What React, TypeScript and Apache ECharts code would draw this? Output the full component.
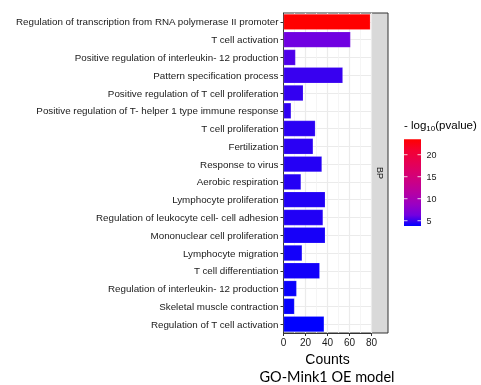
import React, { useEffect, useRef } from "react";
import * as echarts from "echarts";

const categories = [
  "Regulation of transcription from RNA polymerase II promoter",
  "T cell activation",
  "Positive regulation of interleukin- 12 production",
  "Pattern specification process",
  "Positive regulation of T cell proliferation",
  "Positive regulation of T- helper 1 type immune response",
  "T cell proliferation",
  "Fertilization",
  "Response to virus",
  "Aerobic respiration",
  "Lymphocyte proliferation",
  "Regulation of leukocyte cell- cell adhesion",
  "Mononuclear cell proliferation",
  "Lymphocyte migration",
  "T cell differentiation",
  "Regulation of interleukin- 12 production",
  "Skeletal muscle contraction",
  "Regulation of T cell activation",
];
const counts = [79, 61, 11, 54, 18, 7, 29, 27, 35, 16, 38, 36, 38, 17, 33, 12, 10, 37];
const negLogP = [23.5, 6.2, 5.5, 5.0, 4.9, 4.8, 4.7, 4.7, 4.6, 4.6, 4.5, 4.5, 4.3, 4.2, 4.2, 4.0, 3.9, 3.8];
const xTicks = [0, 20, 40, 60, 80];
const legendTicks = [5, 10, 15, 20];
const colorStops = ["#0000FF", "#7300E0", "#9A00C3", "#B500A5", "#C90088", "#DA006C", "#E8004F", "#F40031", "#FF0000"];

const P_MIN = Math.min(...negLogP);
const P_MAX = Math.max(...negLogP);

export default function App() {
  const ref = useRef<HTMLDivElement>(null);
  useEffect(() => {
    if (!ref.current) return;
    const chart = echarts.init(ref.current, null, { renderer: "svg" });
    const gridLeft = 283.5, gridTop = 13, gridW = 88, gridH = 320;
    const barX = 404, barTop = 139.3, barW = 17, barH = 86.7;
    const yOf = (v: number) => barTop + barH - ((v - P_MIN) / (P_MAX - P_MIN)) * barH;
    const n = colorStops.length;
    const reversed = colorStops.slice().reverse();
    const gradStops = reversed.map((c, i) => ({ offset: i / (n - 1), color: c }));

    const legendEls: any[] = [
      {
        type: "rect",
        shape: { x: barX, y: barTop, width: barW, height: barH },
        style: { fill: new echarts.graphic.LinearGradient(0, 0, 0, 1, gradStops) },
      },
    ];
    legendTicks.forEach((t) => {
      const y = yOf(t);
      legendEls.push({ type: "line", shape: { x1: barX, y1: y, x2: barX + 3.5, y2: y }, style: { stroke: "rgba(255,255,255,0.8)", lineWidth: 1 } });
      legendEls.push({ type: "line", shape: { x1: barX + barW - 3.5, y1: y, x2: barX + barW, y2: y }, style: { stroke: "rgba(255,255,255,0.8)", lineWidth: 1 } });
      legendEls.push({
        type: "text",
        x: barX + barW + 5.5,
        y,
        style: { text: String(t), fontSize: 9, fontFamily: "Liberation Sans, Arial", fill: "#1A1A1A", verticalAlign: "middle", align: "left" },
      });
    });

    chart.setOption({
      animation: false,
      grid: {
        left: gridLeft, top: gridTop, width: gridW, height: gridH,
        show: true, borderColor: "#333333", borderWidth: 1, backgroundColor: "#ffffff",
      },
      xAxis: {
        type: "value", min: 0, max: 80, interval: 20,
        name: "Counts", nameLocation: "middle", nameGap: 17,
        nameTextStyle: { fontSize: 14, fontFamily: "Liberation Sans, Arial", color: "#000" },
        axisLine: { show: true, lineStyle: { color: "#333333" } },
        axisTick: { show: true, length: 3, lineStyle: { color: "#333333" } },
        axisLabel: { fontSize: 10, fontFamily: "Liberation Sans, Arial", color: "#1A1A1A", margin: 4,
          formatter: (v: number) => (xTicks.includes(v) ? String(v) : "") },
        splitLine: { show: true, lineStyle: { color: "#EBEBEB", width: 1.2 } },
        minorTick: { show: false, splitNumber: 2 },
        minorSplitLine: { show: true, lineStyle: { color: "#F2F2F2", width: 0.8 } },
      },
      yAxis: {
        type: "category", data: categories, inverse: true,
        axisLine: { show: true, lineStyle: { color: "#333333" } },
        axisTick: { show: true, length: 3, alignWithLabel: true, lineStyle: { color: "#333333" } },
        axisLabel: { fontSize: 9.8, fontFamily: "Liberation Sans, Arial", color: "#1A1A1A", margin: 5, interval: 0 },
        splitLine: { show: true, alignWithLabel: true, interval: 0, lineStyle: { color: "#EBEBEB", width: 1.2 } },
      },
      visualMap: {
        show: false, type: "continuous", dimension: 2, seriesIndex: 0,
        min: P_MIN, max: P_MAX, inRange: { color: colorStops },
      },
      series: [
        {
          type: "bar",
          barWidth: "90%",
          data: counts.map((c, i) => [c, categories[i], negLogP[i]]),
          encode: { x: 0, y: 1 },
          itemStyle: { borderColor: "rgba(255,255,255,0.25)", borderWidth: 0.6 },
        },
      ],
      graphic: [
        {
          type: "rect",
          shape: { x: gridLeft + gridW, y: gridTop, width: 16.5, height: gridH },
          style: { fill: "#D9D9D9", stroke: "#333333", lineWidth: 1 },
        },
        {
          type: "text",
          x: gridLeft + gridW + 8.5,
          y: gridTop + gridH / 2,
          rotation: -Math.PI / 2,
          style: { text: "BP", fontSize: 9, fontFamily: "Liberation Sans, Arial", fill: "#1A1A1A", align: "center", verticalAlign: "middle" },
        },
        {
          type: "text",
          x: 404,
          y: 125,
          style: {
            text: "{a|- log}{s|10}{a|(pvalue)}",
            verticalAlign: "middle",
            rich: {
              a: { fontSize: 11.5, fontFamily: "Liberation Sans, Arial", fill: "#000", color: "#000" },
              s: { fontSize: 8, fontFamily: "Liberation Sans, Arial", color: "#000", verticalAlign: "bottom", padding: [6, 0, 0, 0] },
            },
          },
        },
        ...legendEls,
        {
          type: "text",
          x: 327,
          y: 376,
          style: { text: "GO-Mink1 OE model", fontSize: 14.5, fontFamily: "Lato, Carlito, sans-serif", fill: "#000", align: "center", verticalAlign: "middle" },
        },
      ],
    });
    return () => chart.dispose();
  }, []);
  return <div ref={ref} style={{ position: "fixed", left: 0, top: 0, width: 481, height: 385 }} />;
}
